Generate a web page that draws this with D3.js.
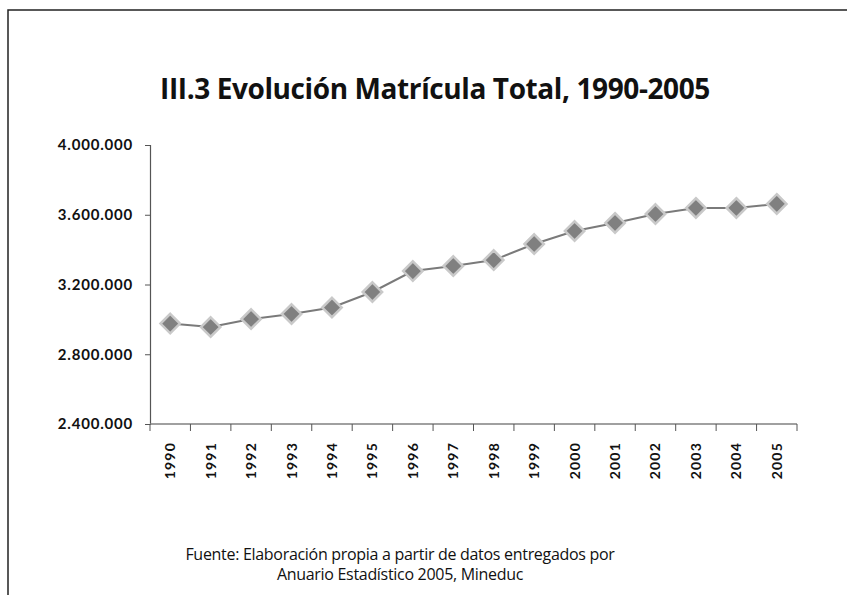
<!DOCTYPE html>
<html>
<head>
<meta charset="utf-8">
<script src="https://cdn.jsdelivr.net/npm/d3@7"></script>
<style>
  body { margin: 0; background: #fff; }
  svg { display: block; }
</style>
</head>
<body>
<div id="chart"></div>
<script>
// data
const years = ["1990", "1991", "1992", "1993", "1994", "1995", "1996", "1997",
               "1998", "1999", "2000", "2001", "2002", "2003", "2004", "2005"];
const matricula = [2976000, 2956000, 3002000, 3031000, 3068000, 3157000, 3277000, 3306000,
                   3340000, 3432000, 3507000, 3553000, 3604000, 3639000, 3639000, 3662000];
const yTicks = [2400000, 2800000, 3200000, 3600000, 4000000];

const width = 847;
const height = 595;
const margin = { top: 145, right: 50, bottom: 171, left: 150 };

const svg = d3.select("#chart")
  .append("svg")
  .attr("width", width)
  .attr("height", height);

// frame (only top and left edges are visible)
svg.append("path")
  .attr("d", `M8,${height} V10 H${width}`)
  .attr("fill", "none")
  .attr("stroke", "#222")
  .attr("stroke-width", 1.5);

// title
svg.append("text")
  .attr("x", 435)
  .attr("y", 99)
  .attr("text-anchor", "middle")
  .attr("font-family", "'Open Sans', sans-serif")
  .attr("font-weight", "bold")
  .attr("font-size", 28)
  .attr("letter-spacing", -0.4)
  .attr("fill", "#111")
  .text("III.3 Evolución Matrícula Total, 1990-2005");

// scales
const x = d3.scaleBand()
  .domain(years)
  .range([margin.left, width - margin.right]);

const y = d3.scaleLinear()
  .domain([2400000, 4000000])
  .range([height - margin.bottom, margin.top]);

const fmt = d => d3.format(",")(d).replace(/,/g, ".");

// y axis
const yAxis = svg.append("g")
  .attr("transform", `translate(${margin.left},0)`)
  .call(d3.axisLeft(y).tickValues(yTicks).tickFormat(fmt).tickSize(5).tickPadding(12));
yAxis.select(".domain").attr("stroke", "#555").attr("stroke-width", 1.2);
yAxis.selectAll(".tick line").attr("stroke", "#555");
yAxis.selectAll("text")
  .attr("font-family", "Lato, sans-serif")
  .attr("font-weight", "bold")
  .attr("font-size", 15)
  .attr("letter-spacing", 0.8)
  .attr("fill", "#111");

// x axis, ticks on band boundaries
const xAxisY = height - margin.bottom;
svg.append("line")
  .attr("x1", margin.left).attr("x2", width - margin.right)
  .attr("y1", xAxisY).attr("y2", xAxisY)
  .attr("stroke", "#808080").attr("stroke-width", 1.5);

const bounds = years.map(d => x(d)).concat([x.range()[1]]);
svg.selectAll(".xtick")
  .data(bounds)
  .enter().append("line")
    .attr("class", "xtick")
    .attr("x1", d => d).attr("x2", d => d)
    .attr("y1", xAxisY).attr("y2", xAxisY + 7)
    .attr("stroke", "#555");

svg.selectAll(".xlabel")
  .data(years)
  .enter().append("text")
    .attr("class", "xlabel")
    .attr("transform", d => `translate(${x(d) + x.bandwidth() / 2 + 5},${xAxisY + 18}) rotate(-90)`)
    .attr("text-anchor", "end")
    .attr("font-family", "Lato, sans-serif")
    .attr("font-weight", "bold")
    .attr("font-size", 14)
    .attr("letter-spacing", 1.2)
    .attr("fill", "#111")
    .text(d => d);

// line
const line = d3.line()
  .x((d, i) => x(years[i]) + x.bandwidth() / 2)
  .y(d => y(d));

svg.append("path")
  .datum(matricula)
  .attr("d", line)
  .attr("fill", "none")
  .attr("stroke", "#7a7a7a")
  .attr("stroke-width", 2);

// diamond markers
const diamond = d3.symbol().type(d3.symbolDiamond2).size(240);
svg.selectAll(".marker")
  .data(matricula)
  .enter().append("path")
    .attr("class", "marker")
    .attr("d", diamond)
    .attr("transform", (d, i) => `translate(${x(years[i]) + x.bandwidth() / 2},${y(d)})`)
    .attr("fill", "#808080")
    .attr("stroke", "#c9c9c9")
    .attr("stroke-width", 2.5);

// source note
const note = svg.append("text")
  .attr("text-anchor", "middle")
  .attr("font-family", "'Open Sans', sans-serif")
  .attr("font-size", 16)
  .attr("letter-spacing", -0.3)
  .attr("fill", "#111");
note.append("tspan").attr("x", 400).attr("y", 560)
  .text("Fuente: Elaboración propia a partir de datos entregados por");
note.append("tspan").attr("x", 400).attr("y", 580)
  .text("Anuario Estadístico 2005, Mineduc");
</script>
</body>
</html>
